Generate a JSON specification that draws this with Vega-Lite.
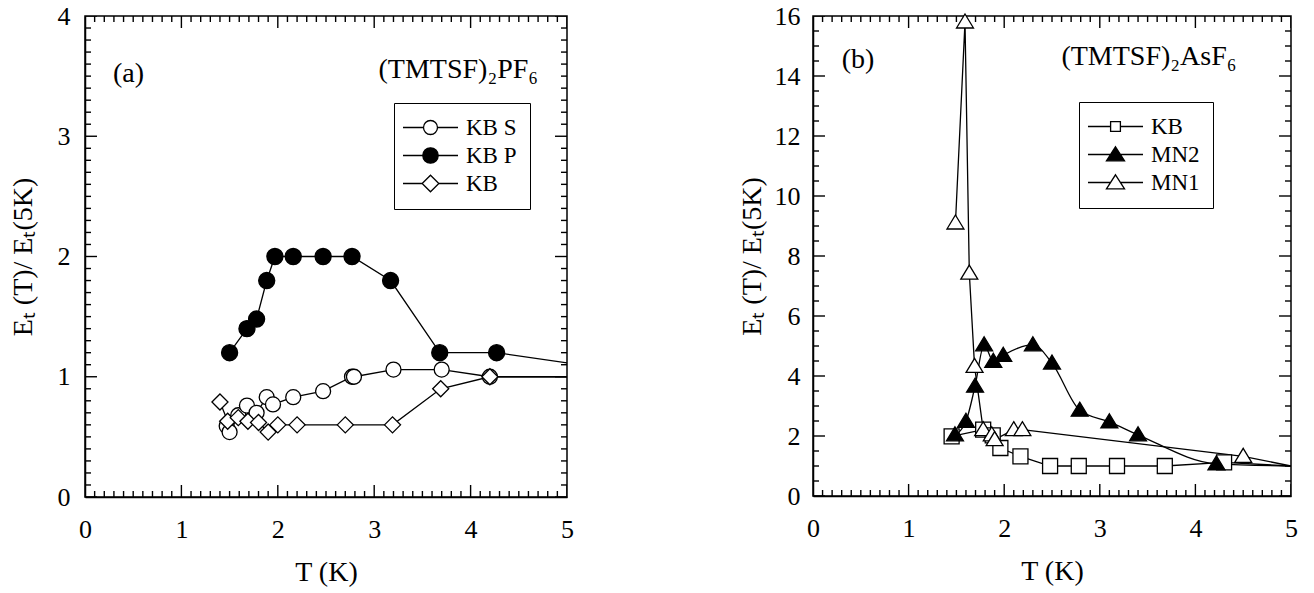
{
  "$schema": "https://vega.github.io/schema/vega-lite/v6.json",
  "background": "white",
  "padding": {"left": 8, "top": 2, "right": 5, "bottom": 0},
  "spacing": 162,
  "config": {
    "view": {"stroke": "black", "strokeWidth": 1.5},
    "axis": {"domainColor": "black", "domainWidth": 1.5, "ticks": false, "grid": false, "labelFont": "Liberation Serif", "labelFontSize": 26, "labelColor": "black", "titleFont": "Liberation Serif", "titleFontSize": 28, "titleFontWeight": "normal", "titleColor": "black", "labelFlush": false, "labelOverlap": false},
    "legend": {"title": null, "orient": "none", "strokeColor": "black", "fillColor": "white", "padding": 13, "labelFont": "Liberation Serif", "labelFontSize": 23, "labelColor": "black", "labelOffset": 24, "symbolOffset": 12, "rowPadding": 4, "symbolStrokeWidth": 1.3, "symbolSize": 196},
    "font": "Liberation Serif"
  },
  "datasets": {
    "a": [
      {"series": "KB S", "T": 1.47, "E": 0.59},
      {"series": "KB S", "T": 1.5, "E": 0.54},
      {"series": "KB S", "T": 1.59, "E": 0.68},
      {"series": "KB S", "T": 1.68, "E": 0.76},
      {"series": "KB S", "T": 1.78, "E": 0.7},
      {"series": "KB S", "T": 1.885, "E": 0.83},
      {"series": "KB S", "T": 1.95, "E": 0.77},
      {"series": "KB S", "T": 2.16, "E": 0.83},
      {"series": "KB S", "T": 2.47, "E": 0.88},
      {"series": "KB S", "T": 2.77, "E": 1.0},
      {"series": "KB S", "T": 2.79, "E": 1.0},
      {"series": "KB S", "T": 3.2, "E": 1.06},
      {"series": "KB S", "T": 3.7, "E": 1.06},
      {"series": "KB S", "T": 4.2, "E": 1.0},
      {"series": "KB S", "T": 6.0, "E": 1.0},
      {"series": "KB P", "T": 1.5, "E": 1.2},
      {"series": "KB P", "T": 1.68, "E": 1.4},
      {"series": "KB P", "T": 1.78, "E": 1.48},
      {"series": "KB P", "T": 1.885, "E": 1.8},
      {"series": "KB P", "T": 1.97, "E": 2.0},
      {"series": "KB P", "T": 2.16, "E": 2.0},
      {"series": "KB P", "T": 2.47, "E": 2.0},
      {"series": "KB P", "T": 2.77, "E": 2.0},
      {"series": "KB P", "T": 3.17, "E": 1.8},
      {"series": "KB P", "T": 3.68, "E": 1.2},
      {"series": "KB P", "T": 4.27, "E": 1.2},
      {"series": "KB P", "T": 6.0, "E": 1.0},
      {"series": "KB", "T": 1.4, "E": 0.79},
      {"series": "KB", "T": 1.48, "E": 0.63},
      {"series": "KB", "T": 1.59, "E": 0.66},
      {"series": "KB", "T": 1.69, "E": 0.63},
      {"series": "KB", "T": 1.8, "E": 0.62},
      {"series": "KB", "T": 1.9, "E": 0.54},
      {"series": "KB", "T": 2.0, "E": 0.6},
      {"series": "KB", "T": 2.2, "E": 0.6},
      {"series": "KB", "T": 2.7, "E": 0.6},
      {"series": "KB", "T": 3.19, "E": 0.6},
      {"series": "KB", "T": 3.69, "E": 0.9},
      {"series": "KB", "T": 4.2, "E": 1.0},
      {"series": "KB", "T": 6.0, "E": 1.0}
    ],
    "b": [
      {"series": "KB", "T": 1.45, "E": 1.99},
      {"series": "KB", "T": 1.78, "E": 2.21},
      {"series": "KB", "T": 1.88, "E": 2.02},
      {"series": "KB", "T": 1.96, "E": 1.6},
      {"series": "KB", "T": 2.17, "E": 1.32},
      {"series": "KB", "T": 2.48, "E": 1.0},
      {"series": "KB", "T": 2.78, "E": 1.0},
      {"series": "KB", "T": 3.18, "E": 1.0},
      {"series": "KB", "T": 3.68, "E": 1.0},
      {"series": "KB", "T": 4.3, "E": 1.12},
      {"series": "KB", "T": 5.0, "E": 1.0},
      {"series": "MN2", "T": 1.485, "E": 2.04},
      {"series": "MN2", "T": 1.6, "E": 2.49},
      {"series": "MN2", "T": 1.695, "E": 3.66},
      {"series": "MN2", "T": 1.79, "E": 5.04},
      {"series": "MN2", "T": 1.886, "E": 4.49},
      {"series": "MN2", "T": 1.99, "E": 4.69},
      {"series": "MN2", "T": 2.3, "E": 5.04},
      {"series": "MN2", "T": 2.5, "E": 4.43},
      {"series": "MN2", "T": 2.79, "E": 2.86},
      {"series": "MN2", "T": 3.1, "E": 2.47},
      {"series": "MN2", "T": 3.4, "E": 2.04},
      {"series": "MN2", "T": 4.22, "E": 1.07},
      {"series": "MN2", "T": 5.0, "E": 1.0},
      {"series": "MN1", "T": 1.49, "E": 9.1},
      {"series": "MN1", "T": 1.59, "E": 15.8},
      {"series": "MN1", "T": 1.635, "E": 7.43},
      {"series": "MN1", "T": 1.69, "E": 4.32},
      {"series": "MN1", "T": 1.78, "E": 2.21},
      {"series": "MN1", "T": 1.87, "E": 2.04},
      {"series": "MN1", "T": 1.9, "E": 1.88},
      {"series": "MN1", "T": 2.1, "E": 2.21},
      {"series": "MN1", "T": 2.19, "E": 2.21},
      {"series": "MN1", "T": 4.5, "E": 1.32},
      {"series": "MN1", "T": 5.0, "E": 1.0}
    ],
    "xt": [{"v":0},{"v":0.1},{"v":0.2},{"v":0.3},{"v":0.4},{"v":0.5},{"v":0.6},{"v":0.7},{"v":0.8},{"v":0.9},{"v":1},{"v":1.1},{"v":1.2},{"v":1.3},{"v":1.4},{"v":1.5},{"v":1.6},{"v":1.7},{"v":1.8},{"v":1.9},{"v":2},{"v":2.1},{"v":2.2},{"v":2.3},{"v":2.4},{"v":2.5},{"v":2.6},{"v":2.7},{"v":2.8},{"v":2.9},{"v":3},{"v":3.1},{"v":3.2},{"v":3.3},{"v":3.4},{"v":3.5},{"v":3.6},{"v":3.7},{"v":3.8},{"v":3.9},{"v":4},{"v":4.1},{"v":4.2},{"v":4.3},{"v":4.4},{"v":4.5},{"v":4.6},{"v":4.7},{"v":4.8},{"v":4.9},{"v":5}],
    "yta": [{"v":0},{"v":0.1},{"v":0.2},{"v":0.3},{"v":0.4},{"v":0.5},{"v":0.6},{"v":0.7},{"v":0.8},{"v":0.9},{"v":1},{"v":1.1},{"v":1.2},{"v":1.3},{"v":1.4},{"v":1.5},{"v":1.6},{"v":1.7},{"v":1.8},{"v":1.9},{"v":2},{"v":2.1},{"v":2.2},{"v":2.3},{"v":2.4},{"v":2.5},{"v":2.6},{"v":2.7},{"v":2.8},{"v":2.9},{"v":3},{"v":3.1},{"v":3.2},{"v":3.3},{"v":3.4},{"v":3.5},{"v":3.6},{"v":3.7},{"v":3.8},{"v":3.9},{"v":4}],
    "ytb": [{"v":0},{"v":0.5},{"v":1},{"v":1.5},{"v":2},{"v":2.5},{"v":3},{"v":3.5},{"v":4},{"v":4.5},{"v":5},{"v":5.5},{"v":6},{"v":6.5},{"v":7},{"v":7.5},{"v":8},{"v":8.5},{"v":9},{"v":9.5},{"v":10},{"v":10.5},{"v":11},{"v":11.5},{"v":12},{"v":12.5},{"v":13},{"v":13.5},{"v":14},{"v":14.5},{"v":15},{"v":15.5},{"v":16}]
  },
  "resolve": {"scale": {"shape": "independent", "fill": "independent", "stroke": "independent"}, "legend": {"shape": "independent", "fill": "independent", "stroke": "independent"}},
  "hconcat": [
    {
      "width": 482,
      "height": 481,
      "resolve": {"axis": {"x": "independent", "y": "independent"}, "scale": {"shape": "independent", "fill": "independent", "stroke": "independent"}},
      "layer": [
        {
          "data": {"name": "a"},
          "mark": {"type": "line", "clip": true, "color": "black", "strokeWidth": 1.3},
          "encoding": {
            "x": {"field": "T", "type": "quantitative", "scale": {"domain": [0, 5], "nice": false, "zero": false},
              "axis": {"orient": "bottom", "values": [0, 1, 2, 3, 4, 5], "format": "d", "labelPadding": 19, "title": "T  (K)", "titlePadding": 16}},
            "y": {"field": "E", "type": "quantitative", "scale": {"domain": [0, 4], "nice": false},
              "axis": {"orient": "left", "values": [0, 1, 2, 3, 4], "format": "d", "labelPadding": 15, "title": "Eₜ (T)/  Eₜ(5K)", "titlePadding": 20}},
            "detail": {"field": "series"}
          }
        },
        {
          "data": {"name": "xt"},
          "mark": {"type": "tick", "orient": "vertical", "clip": true, "color": "black", "thickness": 1.4, "opacity": 1},
          "encoding": {
            "x": {"field": "v", "type": "quantitative", "axis": null},
            "y": {"datum": 0, "type": "quantitative", "axis": null},
            "size": {"condition": {"test": "datum.v % 1 === 0", "value": 24}, "value": 12}
          }
        },
        {
          "data": {"name": "xt"},
          "mark": {"type": "tick", "orient": "vertical", "clip": true, "color": "black", "thickness": 1.4, "opacity": 1},
          "encoding": {
            "x": {"field": "v", "type": "quantitative", "axis": null},
            "y": {"datum": 4, "type": "quantitative", "axis": null},
            "size": {"condition": {"test": "datum.v % 1 === 0", "value": 24}, "value": 12}
          }
        },
        {
          "data": {"name": "yta"},
          "mark": {"type": "tick", "orient": "horizontal", "clip": true, "color": "black", "thickness": 1.4, "opacity": 1},
          "encoding": {
            "y": {"field": "v", "type": "quantitative", "axis": null},
            "x": {"datum": 0, "type": "quantitative", "axis": null},
            "size": {"condition": {"test": "datum.v % 1 === 0", "value": 24}, "value": 12}
          }
        },
        {
          "data": {"name": "yta"},
          "mark": {"type": "tick", "orient": "horizontal", "clip": true, "color": "black", "thickness": 1.4, "opacity": 1},
          "encoding": {
            "y": {"field": "v", "type": "quantitative", "axis": null},
            "x": {"datum": 5, "type": "quantitative", "axis": null},
            "size": {"condition": {"test": "datum.v % 1 === 0", "value": 24}, "value": 12}
          }
        },
        {
          "data": {"name": "a"},
          "transform": [{"filter": "datum.T < 4.9"}],
          "mark": {"type": "point", "filled": true, "stroke": "black", "strokeWidth": 1.3, "opacity": 1, "size": 225},
          "encoding": {
            "x": {"field": "T", "type": "quantitative", "axis": null},
            "y": {"field": "E", "type": "quantitative", "axis": null},
            "shape": {"field": "series", "type": "nominal", "legend": null,
              "scale": {"domain": ["KB S", "KB P", "KB"], "range": ["M-1,0A1,1,0,1,1,1,0A1,1,0,1,1,-1,0Z", "M-1.07,0A1.07,1.07,0,1,1,1.07,0A1.07,1.07,0,1,1,-1.07,0Z", "M-1.07,0L0,-1.07L1.07,0L0,1.07Z"]}},
            "fill": {"field": "series", "type": "nominal", "legend": null,
              "scale": {"domain": ["KB S", "KB P", "KB"], "range": ["white", "black", "white"]}}
          }
        },
        {
          "data": {"values": [{}]},
          "mark": {"type": "text", "align": "left", "baseline": "middle", "font": "Liberation Serif", "fontSize": 28, "color": "black"},
          "encoding": {
            "x": {"datum": 0.29, "type": "quantitative", "axis": null},
            "y": {"datum": 3.52, "type": "quantitative", "axis": null},
            "text": {"value": "(a)"}
          }
        },
        {
          "data": {"values": [{}]},
          "mark": {"type": "text", "align": "right", "baseline": "middle", "font": "Liberation Serif", "fontSize": 28, "color": "black"},
          "encoding": {
            "x": {"datum": 4.7, "type": "quantitative", "axis": null},
            "y": {"datum": 3.55, "type": "quantitative", "axis": null},
            "text": {"value": "(TMTSF)₂PF₆"}
          }
        },
        {
          "data": {"name": "a"},
          "transform": [{"filter": "datum.T > 100"}],
          "mark": {"type": "point", "filled": true, "strokeWidth": 1.3, "opacity": 1, "size": 196},
          "encoding": {
            "shape": {"field": "series", "type": "nominal",
              "scale": {"domain": ["KB S", "KB P", "KB"], "range": ["M-3.93,0H-1M1,0H3.93M-1,0A1,1,0,1,1,1,0A1,1,0,1,1,-1,0Z", "M-3.93,0H-1.1M1.1,0H3.93M-1.1,0A1.1,1.1,0,1,1,1.1,0A1.1,1.1,0,1,1,-1.1,0Z", "M-3.93,0H-1.19M1.19,0H3.93M-1.19,0L0,-1.19L1.19,0L0,1.19Z"]},
              "legend": {"legendX": 309, "legendY": 87}},
            "fill": {"field": "series", "type": "nominal",
              "scale": {"domain": ["KB S", "KB P", "KB"], "range": ["white", "black", "white"]},
              "legend": {"legendX": 309, "legendY": 87}},
            "stroke": {"field": "series", "type": "nominal",
              "scale": {"domain": ["KB S", "KB P", "KB"], "range": ["black", "black", "black"]},
              "legend": {"legendX": 309, "legendY": 87}}
          }
        }
      ]
    },
    {
      "width": 478,
      "height": 480,
      "resolve": {"axis": {"x": "independent", "y": "independent"}, "scale": {"shape": "independent", "fill": "independent", "stroke": "independent"}},
      "layer": [
        {
          "data": {"name": "b"},
          "transform": [{"filter": "datum.series !== 'MN2'"}],
          "mark": {"type": "line", "clip": true, "color": "black", "strokeWidth": 1.3},
          "encoding": {
            "x": {"field": "T", "type": "quantitative", "scale": {"domain": [0, 5], "nice": false, "zero": false},
              "axis": {"orient": "bottom", "values": [0, 1, 2, 3, 4, 5], "format": "d", "labelPadding": 19, "title": "T  (K)", "titlePadding": 16}},
            "y": {"field": "E", "type": "quantitative", "scale": {"domain": [0, 16], "nice": false},
              "axis": {"orient": "left", "values": [0, 2, 4, 6, 8, 10, 12, 14, 16], "format": "d", "labelPadding": 13, "title": "Eₜ (T)/  Eₜ(5K)", "titlePadding": 8}},
            "detail": {"field": "series"}
          }
        },
        {
          "data": {"name": "b"},
          "transform": [{"filter": "datum.series === 'MN2'"}],
          "mark": {"type": "line", "clip": true, "color": "black", "strokeWidth": 1.3, "interpolate": "monotone"},
          "encoding": {
            "x": {"field": "T", "type": "quantitative", "axis": null},
            "y": {"field": "E", "type": "quantitative", "axis": null}
          }
        },
        {
          "data": {"name": "xt"},
          "mark": {"type": "tick", "orient": "vertical", "clip": true, "color": "black", "thickness": 1.4, "opacity": 1},
          "encoding": {
            "x": {"field": "v", "type": "quantitative", "axis": null},
            "y": {"datum": 0, "type": "quantitative", "axis": null},
            "size": {"condition": {"test": "datum.v % 1 === 0", "value": 24}, "value": 12}
          }
        },
        {
          "data": {"name": "xt"},
          "mark": {"type": "tick", "orient": "vertical", "clip": true, "color": "black", "thickness": 1.4, "opacity": 1},
          "encoding": {
            "x": {"field": "v", "type": "quantitative", "axis": null},
            "y": {"datum": 16, "type": "quantitative", "axis": null},
            "size": {"condition": {"test": "datum.v % 1 === 0", "value": 24}, "value": 12}
          }
        },
        {
          "data": {"name": "ytb"},
          "mark": {"type": "tick", "orient": "horizontal", "clip": true, "color": "black", "thickness": 1.4, "opacity": 1},
          "encoding": {
            "y": {"field": "v", "type": "quantitative", "axis": null},
            "x": {"datum": 0, "type": "quantitative", "axis": null},
            "size": {"condition": {"test": "datum.v % 2 === 0", "value": 24}, "value": 12}
          }
        },
        {
          "data": {"name": "ytb"},
          "mark": {"type": "tick", "orient": "horizontal", "clip": true, "color": "black", "thickness": 1.4, "opacity": 1},
          "encoding": {
            "y": {"field": "v", "type": "quantitative", "axis": null},
            "x": {"datum": 5, "type": "quantitative", "axis": null},
            "size": {"condition": {"test": "datum.v % 2 === 0", "value": 24}, "value": 12}
          }
        },
        {
          "data": {"name": "b"},
          "transform": [{"filter": "datum.T < 4.9"}],
          "mark": {"type": "point", "filled": true, "stroke": "black", "strokeWidth": 1.3, "opacity": 1, "size": 225},
          "encoding": {
            "x": {"field": "T", "type": "quantitative", "axis": null},
            "y": {"field": "E", "type": "quantitative", "axis": null},
            "shape": {"field": "series", "type": "nominal", "legend": null,
              "scale": {"domain": ["KB", "MN2", "MN1"], "range": ["M-1,-1H1V1H-1Z", "M0,-1.07L1.13,0.8L-1.13,0.8Z", "M0,-1.07L1.13,0.8L-1.13,0.8Z"]}},
            "fill": {"field": "series", "type": "nominal", "legend": null,
              "scale": {"domain": ["KB", "MN2", "MN1"], "range": ["white", "black", "white"]}}
          }
        },
        {
          "data": {"values": [{}]},
          "mark": {"type": "text", "align": "left", "baseline": "middle", "font": "Liberation Serif", "fontSize": 28, "color": "black"},
          "encoding": {
            "x": {"datum": 0.3, "type": "quantitative", "axis": null},
            "y": {"datum": 14.53, "type": "quantitative", "axis": null},
            "text": {"value": "(b)"}
          }
        },
        {
          "data": {"values": [{}]},
          "mark": {"type": "text", "align": "right", "baseline": "middle", "font": "Liberation Serif", "fontSize": 28, "color": "black"},
          "encoding": {
            "x": {"datum": 4.43, "type": "quantitative", "axis": null},
            "y": {"datum": 14.63, "type": "quantitative", "axis": null},
            "text": {"value": "(TMTSF)₂AsF₆"}
          }
        },
        {
          "data": {"name": "b"},
          "transform": [{"filter": "datum.T > 100"}],
          "mark": {"type": "point", "filled": true, "strokeWidth": 1.3, "opacity": 1, "size": 196},
          "encoding": {
            "shape": {"field": "series", "type": "nominal",
              "scale": {"domain": ["KB", "MN2", "MN1"], "range": ["M-3.93,0H-0.7M0.7,0H3.93M-0.7,-0.7H0.7V0.7H-0.7Z", "M-3.93,0H3.93M0,-1.1L1.29,0.9L-1.29,0.9Z", "M-3.93,0H-0.71M0.71,0H3.93M0,-1.1L1.29,0.9L-1.29,0.9Z"]},
              "legend": {"legendX": 266, "legendY": 86}},
            "fill": {"field": "series", "type": "nominal",
              "scale": {"domain": ["KB", "MN2", "MN1"], "range": ["white", "black", "white"]},
              "legend": {"legendX": 266, "legendY": 86}},
            "stroke": {"field": "series", "type": "nominal",
              "scale": {"domain": ["KB", "MN2", "MN1"], "range": ["black", "black", "black"]},
              "legend": {"legendX": 266, "legendY": 86}}
          }
        }
      ]
    }
  ]
}
